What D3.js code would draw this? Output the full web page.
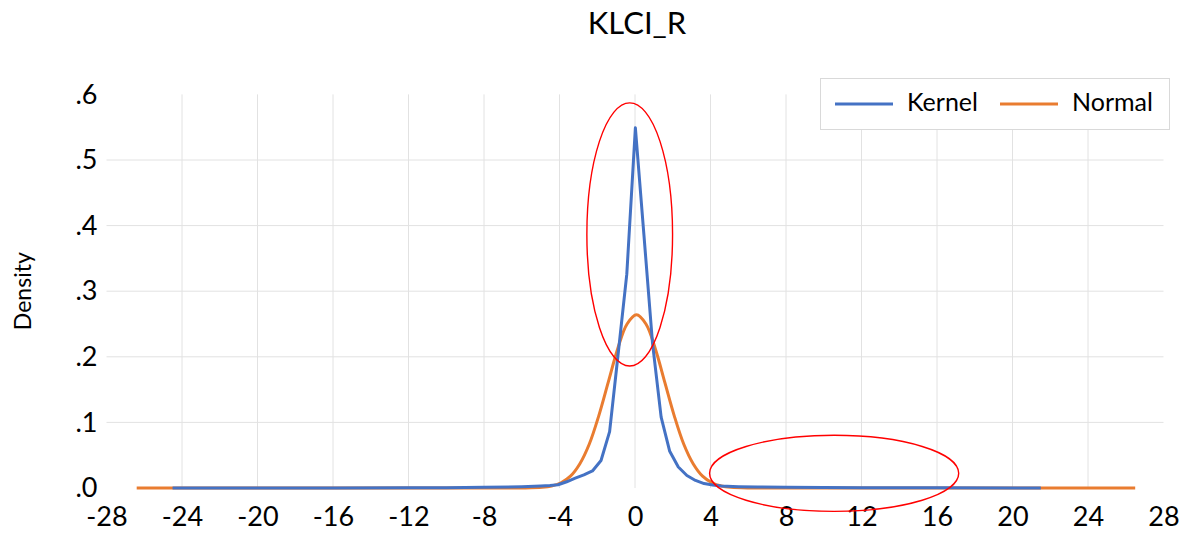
<!DOCTYPE html>
<html><head><meta charset="utf-8">
<script src="https://cdn.jsdelivr.net/npm/d3@7"></script>
<style>
body{margin:0;background:#fff}
text{font-family:Lato,"Open Sans",sans-serif;fill:#000}
</style>
</head><body>
<svg id="chart" width="1201" height="535"></svg>
<script>
const chartTitle = "KLCI_R";
const yAxisTitle = "Density";
const seriesNames = ["Kernel", "Normal"];
const seriesColors = ["#4472C4", "#E97C30"];

// Kernel density estimate
const kernelX = [-24.5, -20, -16, -12, -10, -8, -6, -5, -4.5, -4.075, -3.62, -3.165, -2.71, -2.255, -1.8, -1.345, -0.89, -0.435, 0.02, 0.475, 0.93, 1.385, 1.84, 2.295, 2.75, 3.205, 3.66, 4.115, 4.57, 5.5, 6.5, 8, 10, 12, 16, 21.5];
const kernelY = [0.0000, 0.0000, 0.0001, 0.0002, 0.0004, 0.0010, 0.0020, 0.0030, 0.0038, 0.0050, 0.0095, 0.0150, 0.0200, 0.0260, 0.0420, 0.0860, 0.2050, 0.3260, 0.5490, 0.3850, 0.2200, 0.1080, 0.0560, 0.0320, 0.0190, 0.0115, 0.0068, 0.0045, 0.0030, 0.0020, 0.0015, 0.0010, 0.0008, 0.0005, 0.0002, 0.0000];

// Normal density
const normalX = [-26.4, -7.92, -5.92, -4.92, -4.42, -3.92, -3.42, -2.92, -2.42, -1.92, -1.42, -0.92, -0.42, 0.08, 0.58, 1.08, 1.58, 2.08, 2.58, 3.08, 3.58, 4.08, 4.58, 5.08, 6.08, 8.08, 26.5];
const normalY = [0.0000, 0.0000, 0.0001, 0.0011, 0.0031, 0.0080, 0.0180, 0.0370, 0.0670, 0.1100, 0.1610, 0.2120, 0.2500, 0.2640, 0.2500, 0.2120, 0.1610, 0.1100, 0.0670, 0.0370, 0.0180, 0.0080, 0.0031, 0.0011, 0.0001, 0.0000, 0.0000];

const xTicks = [-28, -24, -20, -16, -12, -8, -4, 0, 4, 8, 12, 16, 20, 24, 28];
const xTickLabels = ["-28", "-24", "-20", "-16", "-12", "-8", "-4", "0", "4", "8", "12", "16", "20", "24", "28"];
const yTicks = [0, 0.1, 0.2, 0.3, 0.4, 0.5, 0.6];
const yTickLabels = [".0", ".1", ".2", ".3", ".4", ".5", ".6"];

// red highlight ellipses (data units)
const ellipseCx = [-0.28, 10.55];
const ellipseCy = [0.3865, 0.0223];
const ellipseRx = [2.27, 6.6];
const ellipseRy = [0.2006, 0.058];

const svg = d3.select("#chart");
const x = d3.scaleLinear().domain([-28, 28]).range([106.5, 1163.5]);
const y = d3.scaleLinear().domain([0, 0.6]).range([488, 94.4]);

// gridlines
const grid = svg.append("g");
grid.selectAll("line.v").data(xTicks.filter(t => Math.abs(t) < 28)).join("line")
  .attr("x1", d => x(d)).attr("x2", d => x(d))
  .attr("y1", y(0.6)).attr("y2", y(0))
  .attr("stroke", "#E2E2E2").attr("stroke-width", 1);
grid.selectAll("line.h").data(yTicks.filter(t => t > 0 && t < 0.6)).join("line")
  .attr("x1", x(-28)).attr("x2", x(28))
  .attr("y1", d => y(d)).attr("y2", d => y(d))
  .attr("stroke", "#E2E2E2").attr("stroke-width", 1);

// axes (tick labels only)
const xAxis = svg.append("g").attr("transform", `translate(0,${y(0)})`)
  .call(d3.axisBottom(x).tickValues(xTicks).tickFormat((d, i) => xTickLabels[i]).tickSize(0).tickPadding(19));
xAxis.select(".domain").remove();
xAxis.selectAll("text").attr("font-size", 27).attr("font-family", "Lato").attr("fill", "#000");

const yAxis = svg.append("g").attr("transform", `translate(${x(-28)},0)`)
  .call(d3.axisLeft(y).tickValues(yTicks).tickFormat((d, i) => yTickLabels[i]).tickSize(0).tickPadding(9));
yAxis.select(".domain").remove();
yAxis.selectAll("text").attr("font-size", 27).attr("font-family", "Lato").attr("fill", "#000");

// lines
const normalData = normalX.map((v, i) => [v, normalY[i]]);
const kernelData = kernelX.map((v, i) => [v, kernelY[i]]);
svg.append("path").datum(normalData)
  .attr("d", d3.line().x(d => x(d[0])).y(d => y(d[1])).curve(d3.curveCatmullRom))
  .attr("fill", "none").attr("stroke", seriesColors[1]).attr("stroke-width", 3);
svg.append("path").datum(kernelData)
  .attr("d", d3.line().x(d => x(d[0])).y(d => y(d[1])))
  .attr("fill", "none").attr("stroke", seriesColors[0]).attr("stroke-width", 3)
  .attr("stroke-linejoin", "round");

// ellipses
svg.selectAll("ellipse.hl").data(ellipseCx).join("ellipse")
  .attr("cx", d => x(d))
  .attr("cy", (d, i) => y(ellipseCy[i]))
  .attr("rx", (d, i) => x(ellipseRx[i]) - x(0))
  .attr("ry", (d, i) => y(0) - y(ellipseRy[i]))
  .attr("fill", "none").attr("stroke", "#FF0000").attr("stroke-width", 1.4);

// title
svg.append("text").attr("x", 637).attr("y", 34).attr("text-anchor", "middle")
  .attr("font-size", 31).text(chartTitle);

// y axis title
svg.append("text").attr("transform", `translate(31,${(y(0) + y(0.6)) / 2}) rotate(-90)`)
  .attr("text-anchor", "middle").attr("font-size", 23).text(yAxisTitle);

// legend
const lg = svg.append("g");
lg.append("rect").attr("x", 820.5).attr("y", 78.5).attr("width", 349).attr("height", 51)
  .attr("fill", "#fff").attr("stroke", "#D9D9D9");
const legendX = [835, 1000];
seriesNames.forEach((n, i) => {
  lg.append("line").attr("x1", legendX[i]).attr("x2", legendX[i] + 58)
    .attr("y1", 104).attr("y2", 104).attr("stroke", seriesColors[i]).attr("stroke-width", 3);
  lg.append("text").attr("x", legendX[i] + 72).attr("y", 111).attr("font-size", 25).text(n);
});
</script>
</body></html>
